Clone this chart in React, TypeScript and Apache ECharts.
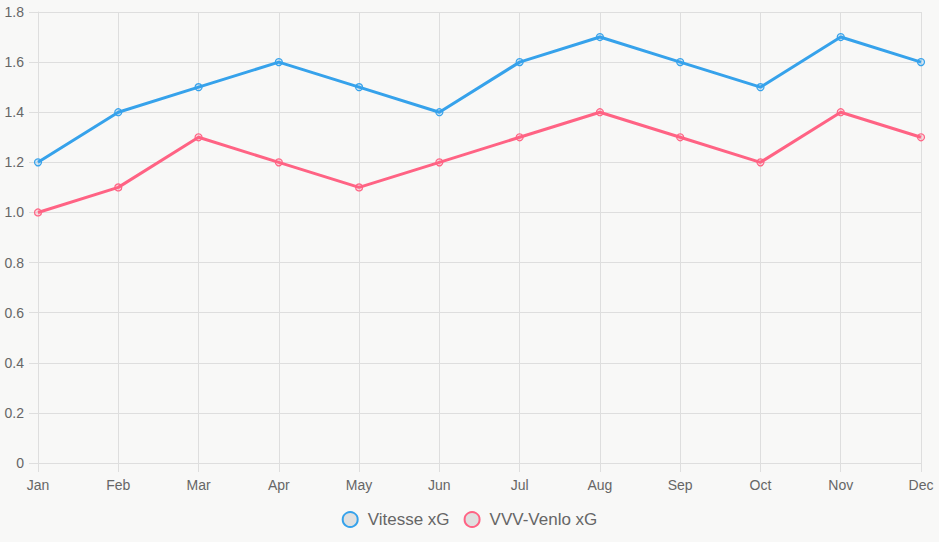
import React, { useEffect, useRef } from "react";
import * as echarts from "echarts";

const months = ["Jan", "Feb", "Mar", "Apr", "May", "Jun", "Jul", "Aug", "Sep", "Oct", "Nov", "Dec"];
const vitesseXG = [1.2, 1.4, 1.5, 1.6, 1.5, 1.4, 1.6, 1.7, 1.6, 1.5, 1.7, 1.6];
const venloXG = [1.0, 1.1, 1.3, 1.2, 1.1, 1.2, 1.3, 1.4, 1.3, 1.2, 1.4, 1.3];
const seriesNames = ["Vitesse xG", "VVV-Venlo xG"];

const FONT = "'Liberation Sans', Arial, Helvetica, sans-serif";
const GRID = "#dedede";
const TEXT = "#666";

export default function App() {
  const ref = useRef<HTMLDivElement>(null);
  useEffect(() => {
    if (!ref.current) return;
    const chart = echarts.init(ref.current, undefined, { renderer: "svg" });
    const colors = ["#36a2eb", "#ff6384"];
    const fills = ["rgba(54,162,235,0.2)", "rgba(255,99,132,0.2)"];
    const datasets = [vitesseXG, venloXG];
    chart.setOption({
      animation: false,
      backgroundColor: "#f8f8f7",
      textStyle: { fontFamily: FONT },
      grid: { left: 38, right: 18, top: 12, bottom: 79, containLabel: false },
      legend: {
        bottom: 9,
        left: "center",
        icon: "circle",
        itemWidth: 15,
        itemHeight: 15,
        itemGap: 14,
        textStyle: { color: TEXT, fontSize: 17, fontFamily: FONT, padding: [0, 0, 0, 5] },
        data: seriesNames.map((n, i) => ({
          name: n,
          itemStyle: { color: "#e0e0e0", borderColor: colors[i], borderWidth: 2 },
        })),
      },
      xAxis: {
        type: "category",
        data: months,
        boundaryGap: false,
        axisLine: { show: true, lineStyle: { color: GRID, width: 1 } },
        axisTick: { show: true, length: 9, lineStyle: { color: GRID } },
        splitLine: { show: true, lineStyle: { color: GRID, width: 1 } },
        axisLabel: { color: TEXT, fontSize: 14, margin: 15, fontFamily: FONT },
      },
      yAxis: {
        type: "value",
        min: 0,
        max: 1.8,
        interval: 0.2,
        axisLine: { show: true, lineStyle: { color: GRID, width: 1 } },
        axisTick: { show: true, length: 9, lineStyle: { color: GRID } },
        splitLine: { show: true, lineStyle: { color: GRID, width: 1 } },
        axisLabel: {
          color: TEXT,
          fontSize: 14,
          margin: 14,
          fontFamily: FONT,
          formatter: (v: number) => (v === 0 ? "0" : v.toFixed(1)),
        },
      },
      series: datasets.map((d, i) => ({
        name: seriesNames[i],
        type: "line",
        data: d,
        symbol: "circle",
        symbolSize: 7,
        showSymbol: true,
        lineStyle: { color: colors[i], width: 3 },
        itemStyle: { color: fills[i], borderColor: colors[i], borderWidth: 1.2 },
        emphasis: { disabled: true },
      })),
    });
    return () => chart.dispose();
  }, []);
  return <div ref={ref} style={{ width: 939, height: 542, position: "absolute", left: 0, top: 0 }} />;
}
